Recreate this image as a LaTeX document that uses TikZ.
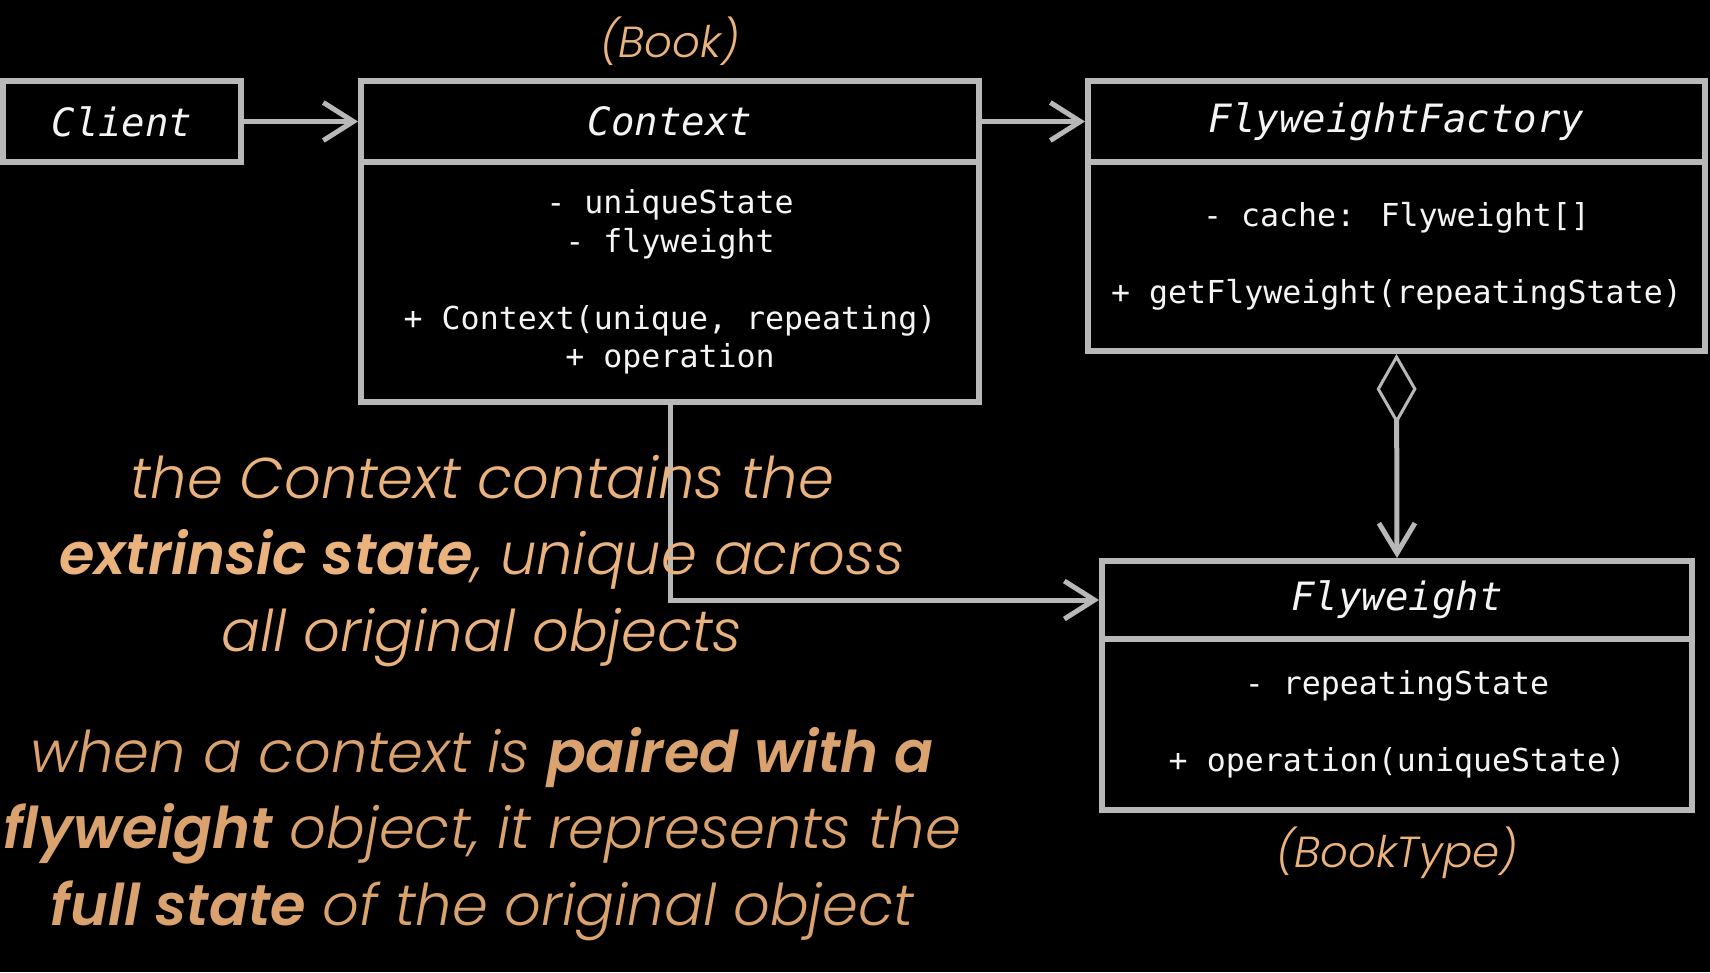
\documentclass[tikz,border=0pt]{standalone}
\usepackage{fontspec}
\setmainfont{Lato}
\newfontfamily\tanfont{Poppins}[ItalicFont={Poppins Light Italic}, BoldItalicFont={Poppins SemiBold Italic}]
\newfontfamily\monofont{DejaVu Sans Mono}
\usetikzlibrary{arrows.meta}
\definecolor{linegray}{HTML}{B8B8B8}
\definecolor{tanlight}{HTML}{EAB27D}
\definecolor{tandark}{HTML}{D9A26E}
\definecolor{txtwhite}{HTML}{F4F4F4}
\begin{document}
\begin{tikzpicture}[x=1pt,y=-1pt,
  box/.style={draw=linegray, line width=6pt, fill=black, rectangle, inner sep=0pt, text=txtwhite},
  titlebox/.style={box, font=\monofont\itshape\fontsize{39}{46}\selectfont},
  bodybox/.style={box, font=\monofont\fontsize{31.6}{38.5}\selectfont, align=center},
  conn/.style={draw=linegray, line width=5pt},
  barb/.style={-{Straight Barb[length=30pt, width=38pt]}},
  tantext/.style={text=tanlight, font=\tanfont\fontsize{57.5}{76.5}\selectfont\itshape, align=center},
  tanlabel/.style={text=tanlight, font=\tanfont\fontsize{43.5}{50}\selectfont\itshape}
]
\useasboundingbox[fill=black] (0,0) rectangle (1710,972);

% boxes
\node[titlebox, minimum width=238pt, minimum height=81pt] (client) at (122,121.5) {Client};

\node[titlebox, minimum width=618pt, minimum height=81pt] (ctxH) at (670,121.5) {Context};
\node[bodybox, minimum width=618pt, minimum height=240pt] (ctxB) at (670,282)
  {- uniqueState\\- flyweight\\[38.5pt]+ Context(unique, repeating)\\+ operation};

\node[titlebox, minimum width=617pt, minimum height=81pt] (ffH) at (1396.5,121.5) {FlyweightFactory};
\node[bodybox, minimum width=617pt, minimum height=189pt] (ffB) at (1396.5,256.5)
  {- cache: Flyweight[]\\[38.5pt]+ getFlyweight(repeatingState)};

\node[titlebox, minimum width=590pt, minimum height=78pt] (fwH) at (1397,600) {Flyweight};
\node[bodybox, minimum width=590pt, minimum height=171pt] (fwB) at (1397,724.5)
  {- repeatingState\\[38.5pt]+ operation(uniqueState)};

% connectors
\draw[conn, barb] (client.east) -- (ctxH.west);
\draw[conn, barb] (ctxH.east) -- (ffH.west);
\draw[conn, barb] (ctxB.south) |- (fwH.west);
\draw[conn, {Diamond[open, length=70pt, width=40pt, line width=3pt]}-{Straight Barb[length=30pt, width=36pt]}] (ffB.south) -- (fwH.north);

% labels
\node[tanlabel] (book) at (670,41) {(Book)};
\node[tanlabel] (booktype) at (1397,853) {(BookType)};

\node[tantext] (para1) at (482,561)
  {the Context contains the\\\textbf{extrinsic state}, unique across\\all original objects};
\node[tantext, text=tandark] (para2) at (482,834)
  {when a context is \textbf{paired with a}\\\textbf{flyweight} object, it represents the\\\textbf{full state} of the original object};
\end{tikzpicture}
\end{document}
